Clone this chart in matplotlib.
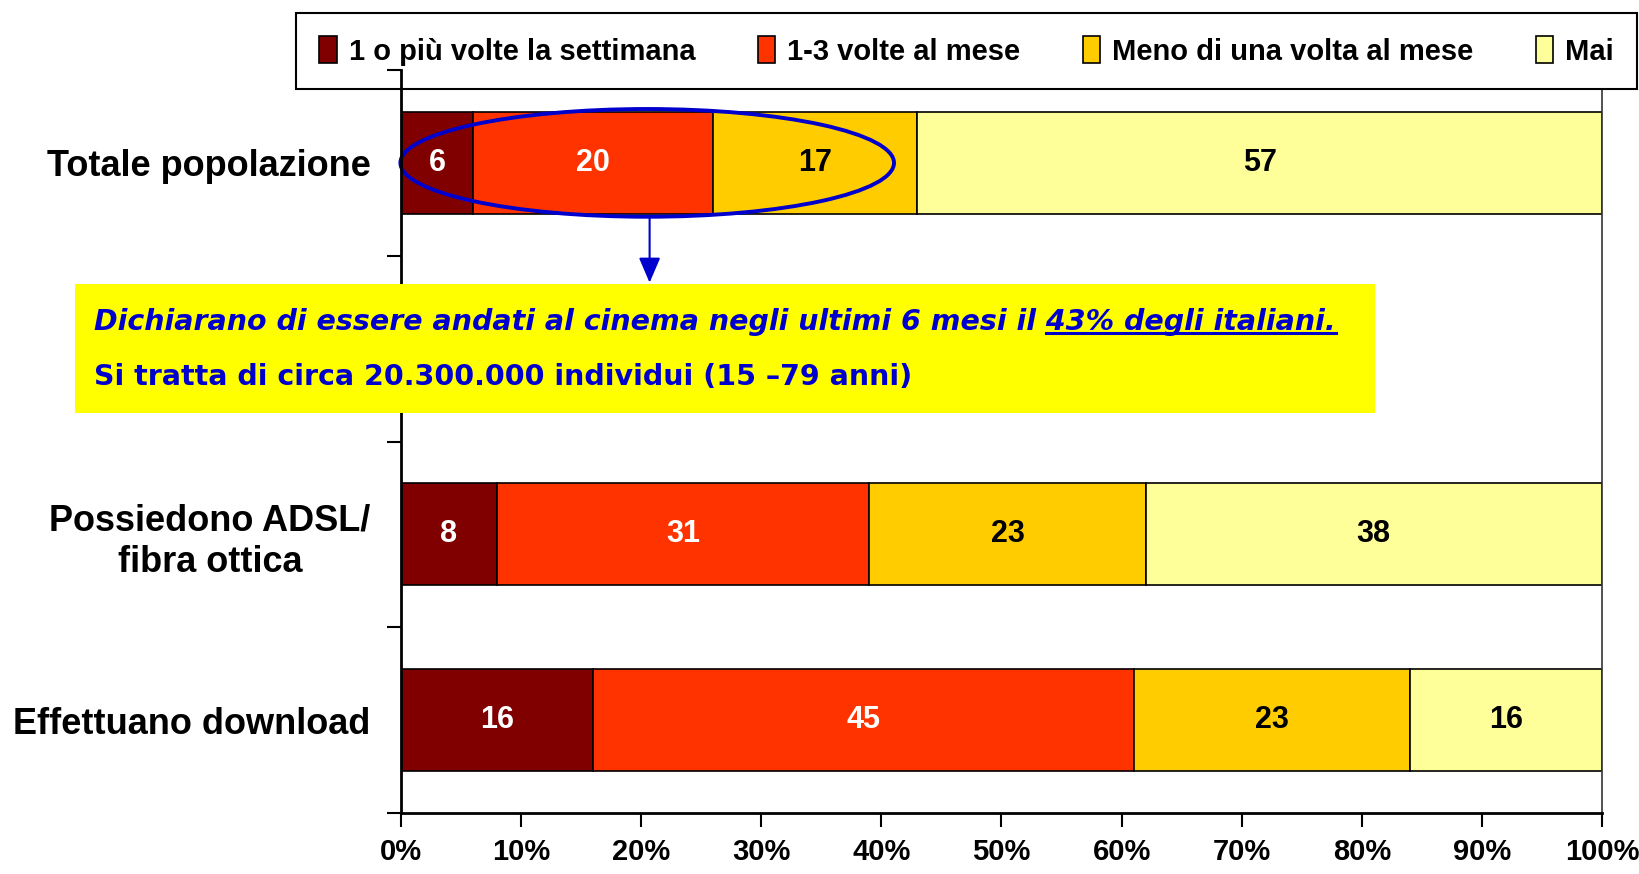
import numpy as np
import matplotlib
matplotlib.use('Agg')
import matplotlib.pyplot as plt
from matplotlib.patches import Ellipse, Rectangle
from matplotlib.lines import Line2D

# data
categories = ['Totale popolazione', '', 'Possiedono ADSL/\nfibra ottica', 'Effettuano download']
series = ['1 o più volte la settimana', '1-3 volte al mese', 'Meno di una volta al mese', 'Mai']
weekly = [6, np.nan, 8, 16]
monthly = [20, np.nan, 31, 45]
less_monthly = [17, np.nan, 23, 23]
never = [57, np.nan, 38, 16]
xticks = list(range(0, 101, 10))

colors = ['#800000', '#FF3300', '#FFCC00', '#FFFF99']
label_colors = ['white', 'white', 'black', 'black']
blue = '#0000CC'

plt.rcParams['font.family'] = ['Liberation Sans', 'DejaVu Sans']
plt.rcParams['font.weight'] = 'bold'

fig = plt.figure(figsize=(16.4, 8.74), dpi=100)
ax = fig.add_axes([401/1640, 61/874, 1201/1640, 743/874])

ypos = np.arange(len(categories))
values = np.array([weekly, monthly, less_monthly, never], dtype=float)
left = np.zeros(len(categories))
handles = []
for vals, col, tcol in zip(values, colors, label_colors):
    b = ax.barh(ypos, vals, left=left, height=0.55, color=col, edgecolor='black', linewidth=1.2, zorder=2)
    handles.append(b)
    for y, v, l in zip(ypos, vals, left):
        if not np.isnan(v):
            ax.text(l + v/2, y, '%d' % v, ha='center', va='center', color=tcol,
                    fontsize=22, fontweight='bold', zorder=3)
    left = left + np.nan_to_num(vals)

ax.set_xlim(0, 100)
ax.set_ylim(len(categories) - 0.5, -0.5)
ax.set_xticks(xticks)
ax.set_xticklabels(['%d%%' % t for t in xticks], fontsize=21, fontweight='bold')
ax.set_yticks(np.arange(len(categories) + 1) - 0.5)
ax.set_yticklabels([])
ax.set_yticks(ypos, minor=True)
ax.set_yticklabels(categories, minor=True, fontsize=26, fontweight='bold',
                   multialignment='center', linespacing=1.25)
ax.tick_params(axis='y', which='minor', length=0, pad=22)
ax.tick_params(axis='y', which='major', length=10, width=1.5, direction='out')
ax.tick_params(axis='x', length=10, width=1.5, direction='out', pad=8)
ax.spines['top'].set_visible(False)
for s in ['left', 'bottom']:
    ax.spines[s].set_linewidth(2)
ax.spines['right'].set_linewidth(1.2)
ax.spines['right'].set_color('#333333')

leg = ax.legend(handles, series, loc='center', ncol=4, mode='expand',
                bbox_to_anchor=(296/1640, 1 - 89/874, 1341/1640, 76/874),
                bbox_transform=fig.transFigure, borderaxespad=0, fancybox=False,
                edgecolor='black', framealpha=1, handlelength=0.6, handleheight=1.0,
                handletextpad=0.4, borderpad=0.8,
                prop={'size': 21, 'weight': 'bold'})
leg.get_frame().set_linewidth(1.5)
ax.spines['left'].set_zorder(6)
ax.yaxis.set_zorder(6)

# ellipse and arrow
ell = Ellipse((20.5, 0.0), 41.1, 0.58, fill=False, edgecolor=blue, linewidth=2.8,
              zorder=4, clip_on=False)
ax.add_patch(ell)
ax.annotate('', xy=(20.7, 0.645), xytext=(20.7, 0.29),
            arrowprops=dict(arrowstyle='-|>,head_length=0.7,head_width=0.3', color=blue,
                            lw=1.5, mutation_scale=22, shrinkA=0, shrinkB=0),
            zorder=4, annotation_clip=False)

# yellow note box
fig.patches.append(Rectangle((75/1640, 1 - 413/874), 1300/1640, 129/874,
                             transform=fig.transFigure, facecolor='#FFFF00',
                             edgecolor='none', zorder=1))
line1 = 'Dichiarano di essere andati al cinema negli ultimi 6 mesi il 43% degli italiani.'
under = '43% degli italiani.'
line2 = 'Si tratta di circa 20.300.000 individui (15 \u201379 anni)'
t1 = fig.text(94/1640, 1 - 322/874, line1, color=blue, fontsize=20.5, fontweight='bold',
              fontstyle='italic', family='DejaVu Sans', va='center', zorder=3)
fig.text(94/1640, 1 - 377/874, line2, color=blue, fontsize=20.5, fontweight='bold',
         family='DejaVu Sans', va='center', zorder=3)

fig.canvas.draw()
r = fig.canvas.get_renderer()
tmp = fig.text(0, 0, under, fontsize=20.5, fontweight='bold', fontstyle='italic', family='DejaVu Sans')
w = tmp.get_window_extent(r).width
tmp.remove()
bb = t1.get_window_extent(r)
uy = (bb.y0 + 3) / fig.bbox.height
fig.lines.append(Line2D([(bb.x1 - w) / fig.bbox.width, bb.x1 / fig.bbox.width], [uy, uy],
                        transform=fig.transFigure, color=blue, lw=2.2, zorder=3))

fig.savefig('out.png', dpi=100)
